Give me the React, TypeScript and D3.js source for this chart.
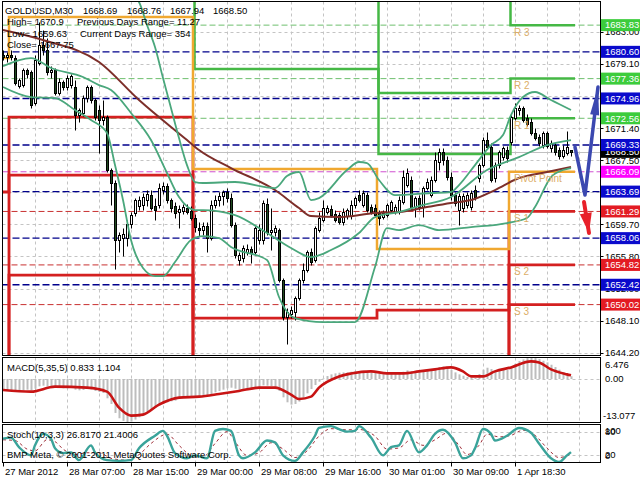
import React from "react";
import * as d3 from "d3";

// ---------------- DATA ----------------
const opens = [
  1680.21,1679.97,1680.21,1679.85,1676.46,1676.58,1678.40,1678.16,1674.41,1679.25,
  1681.42,1680.82,1678.16,1678.40,1675.62,1676.95,1676.34,1676.58,1676.34,1672.95,
  1673.20,1675.01,1676.34,1674.77,1673.56,1672.35,1672.71,1666.30,1664.73,1657.83,
  1658.07,1658.07,1659.77,1661.10,1661.94,1662.06,1662.67,1663.27,1661.94,1662.06,
  1663.88,1664.36,1662.67,1661.94,1661.22,1661.34,1661.70,1661.34,1660.49,1659.28,
  1659.04,1659.52,1658.07,1662.06,1662.67,1663.15,1663.64,1662.91,1659.64,1655.41,
  1655.65,1656.38,1656.74,1656.38,1657.83,1657.83,1662.19,1658.80,1658.80,1659.04,
  1652.99,1648.51,1648.88,1649.12,1650.81,1652.99,1654.20,1656.38,1655.41,1659.04,
  1660.25,1661.22,1661.58,1660.98,1660.85,1660.01,1660.73,1660.73,1662.06,1663.27,
  1662.06,1663.27,1661.82,1661.70,1661.10,1660.61,1660.85,1661.46,1661.22,1661.22,
  1662.43,1664.48,1665.09,1661.82,1662.91,1661.82,1664.12,1663.27,1665.09,1667.27,
  1668.48,1667.51,1665.45,1663.27,1661.46,1661.70,1662.06,1661.82,1663.88,1665.33,
  1666.90,1669.93,1669.08,1665.33,1666.90,1667.87,1668.72,1669.69,1672.59,1673.56,
  1673.80,1672.59,1672.11,1670.78,1670.29,1669.32,1670.78,1668.96,1669.32,1668.72,
  1667.99,1668.36,1668.69,
];
const highs = [
  1680.82,1680.58,1680.82,1680.21,1677.43,1678.64,1678.64,1678.40,1680.21,1684.20,
  1683.24,1682.27,1678.88,1678.64,1677.43,1677.19,1677.79,1677.92,1677.19,1673.80,
  1675.37,1676.58,1676.58,1675.01,1674.16,1674.77,1672.95,1666.54,1665.09,1658.80,
  1659.28,1660.25,1661.22,1662.91,1663.15,1663.52,1663.88,1663.88,1662.91,1664.73,
  1664.85,1664.73,1662.91,1662.43,1662.06,1662.19,1662.19,1661.94,1660.98,1660.01,
  1660.01,1660.01,1662.67,1663.27,1663.64,1663.88,1664.10,1663.52,1660.01,1656.38,
  1657.22,1657.35,1657.10,1659.52,1659.77,1662.67,1662.91,1661.70,1659.64,1659.28,
  1653.23,1649.60,1649.84,1651.05,1653.23,1655.05,1656.62,1656.86,1659.52,1661.22,
  1662.67,1662.06,1662.06,1661.46,1661.22,1661.70,1661.70,1662.67,1663.15,1663.88,
  1663.88,1663.64,1662.19,1662.19,1661.46,1661.46,1662.31,1662.67,1662.19,1663.15,
  1666.30,1666.54,1665.57,1663.15,1663.27,1664.36,1665.33,1665.57,1668.48,1668.96,
  1668.96,1667.99,1666.06,1663.64,1663.52,1663.52,1663.64,1663.88,1664.48,1667.15,
  1670.29,1670.90,1669.57,1667.27,1668.72,1669.20,1669.20,1672.95,1674.41,1674.16,
  1674.04,1673.08,1672.59,1671.38,1670.66,1671.02,1671.02,1669.93,1669.69,1669.08,
  1669.32,1671.02,1668.76,
];
const lows = [
  1679.61,1679.37,1679.61,1676.58,1676.22,1676.34,1677.43,1673.80,1674.16,1679.00,
  1680.21,1677.79,1677.43,1675.37,1675.37,1675.98,1675.98,1676.22,1671.14,1672.11,
  1672.83,1674.53,1674.41,1672.35,1668.36,1671.74,1666.06,1662.06,1654.32,1656.38,
  1655.89,1657.10,1659.28,1660.73,1661.46,1661.46,1661.94,1661.46,1660.25,1661.70,
  1663.40,1662.31,1661.22,1660.49,1659.28,1660.98,1660.98,1660.25,1658.80,1658.31,
  1658.43,1656.38,1657.83,1661.70,1661.94,1662.06,1662.43,1659.40,1655.65,1654.80,
  1655.17,1656.01,1655.05,1656.01,1657.35,1657.35,1658.43,1656.62,1658.31,1652.75,
  1648.15,1645.25,1648.39,1648.15,1650.57,1652.63,1653.96,1654.80,1655.17,1658.80,
  1660.01,1660.98,1660.61,1660.01,1659.77,1659.64,1660.37,1660.37,1661.70,1662.43,
  1661.82,1661.22,1660.98,1660.61,1659.70,1660.37,1660.61,1661.22,1660.98,1660.98,
  1662.19,1664.24,1661.46,1660.61,1661.46,1660.61,1663.88,1663.03,1664.85,1666.30,
  1666.90,1665.09,1662.67,1661.94,1659.63,1661.22,1661.70,1661.46,1662.67,1664.85,
  1666.66,1668.84,1664.85,1664.85,1666.54,1667.51,1667.27,1669.32,1672.35,1672.95,
  1672.11,1671.62,1670.53,1669.93,1669.20,1668.96,1668.96,1668.48,1668.11,1667.63,
  1667.75,1668.11,1667.94,
];
const closes = [
  1679.97,1680.21,1679.97,1676.83,1677.19,1678.40,1677.92,1674.16,1679.61,1681.42,
  1680.82,1678.16,1678.40,1675.62,1676.95,1676.34,1677.43,1677.67,1672.95,1673.56,
  1675.01,1676.34,1674.77,1672.71,1672.35,1672.71,1666.30,1664.73,1657.83,1658.43,
  1658.56,1659.77,1660.85,1662.67,1662.67,1663.03,1663.40,1661.70,1661.46,1664.12,
  1664.36,1662.67,1661.70,1661.10,1661.58,1661.82,1661.22,1660.49,1659.40,1659.04,
  1659.52,1658.07,1662.06,1662.67,1663.15,1663.64,1662.91,1659.64,1656.01,1656.01,
  1656.86,1656.74,1656.26,1659.28,1659.04,1662.31,1658.80,1659.04,1659.28,1652.99,
  1648.51,1649.12,1649.36,1650.81,1652.99,1654.20,1656.38,1655.17,1659.28,1660.49,
  1661.70,1661.70,1660.85,1660.25,1660.01,1661.22,1661.46,1662.06,1662.91,1662.67,
  1663.52,1661.46,1661.22,1660.85,1660.49,1661.10,1662.06,1662.43,1661.82,1662.67,
  1665.45,1665.94,1661.70,1662.91,1661.82,1664.12,1664.85,1665.09,1667.51,1668.48,
  1667.51,1665.45,1663.27,1662.31,1663.15,1663.15,1663.27,1663.52,1663.03,1666.90,
  1669.93,1669.08,1665.09,1666.90,1668.48,1668.96,1667.75,1672.71,1673.80,1673.80,
  1672.35,1671.87,1670.78,1670.17,1669.57,1670.78,1669.20,1669.57,1668.48,1667.99,
  1668.72,1669.08,1668.50,
];

// Bollinger bands / moving average, read as knots (bar index, price)
const bbUpperBars = [0, 15, 25, 30, 34, 36, 38, 40, 42, 44, 46, 48, 50, 58, 68, 71, 74, 77, 79, 86, 89, 91, 94, 98, 107, 112, 114, 118, 122, 125, 127, 130, 133, 137, 139, 142];
const bbUpper = [1689.0, 1690.0, 1690.0, 1688.5, 1686.63, 1683.85, 1681.18, 1677.43, 1673.80, 1670.17, 1666.90, 1664.85, 1664.73, 1664.85, 1664.12, 1665.57, 1666.06, 1662.67, 1662.91, 1666.30, 1667.27, 1667.15, 1665.09, 1663.27, 1663.52, 1663.64, 1664.48, 1666.90, 1669.32, 1670.53, 1672.95, 1675.13, 1675.74, 1674.77, 1674.29, 1673.56];
const bbMidBars = [0, 7, 12, 20, 24, 27, 32, 37, 41, 44, 48, 50, 58, 66, 72, 77, 82, 89, 93, 99, 104, 112, 121, 129, 136, 142];
const bbMid = [1678.88, 1679.85, 1678.64, 1677.55, 1676.58, 1675.98, 1673.20, 1669.93, 1665.94, 1663.03, 1661.46, 1661.46, 1660.85, 1658.68, 1656.86, 1655.77, 1656.62, 1658.68, 1660.61, 1661.22, 1661.94, 1663.03, 1666.30, 1667.87, 1669.32, 1669.93];
const bbLowerBars = [0, 7, 13, 18, 22, 26, 28, 30, 32, 35, 38, 40, 43, 47, 50, 54, 57, 66, 69, 73, 80, 88, 93, 96, 99, 104, 109, 117, 126, 131, 133, 137, 140, 142];
const bbLower = [1676.34, 1675.13, 1675.01, 1673.56, 1672.35, 1670.78, 1666.90, 1662.67, 1657.83, 1654.44, 1653.47, 1653.47, 1655.17, 1657.83, 1658.31, 1658.07, 1656.98, 1655.41, 1650.94, 1648.39, 1647.91, 1647.91, 1654.56, 1659.28, 1659.04, 1659.64, 1659.04, 1659.40, 1659.89, 1660.49, 1661.82, 1665.45, 1666.30, 1666.54];
const maBars = [0, 10, 24, 34, 46, 49, 57, 68, 74, 77, 84, 93, 99, 106, 112, 117, 123, 129, 136, 142];
const maVals = [1683.24, 1682.03, 1679.37, 1674.77, 1669.93, 1668.72, 1666.54, 1663.88, 1661.70, 1660.73, 1660.61, 1661.10, 1661.22, 1661.82, 1662.31, 1662.67, 1663.88, 1665.33, 1666.06, 1666.66];

// Daily pivot levels (days start at these bars)
const dayStartBars = [0, 2, 48, 94, 127];
const pivotP = [1679.85, 1684.81, 1666.42, 1656.74, 1666.09];
const pivotR1 = [1692.0, 1691.83, 1678.52, 1668.24, 1672.56];
const pivotR2 = [1700.0, 1703.9, 1696.55, 1675.62, 1677.36];
const pivotR3 = [1708.0, 1711.0, 1704.0, 1687.12, 1683.83];
const pivotS1 = [1663.64, 1672.71, 1648.39, 1649.36, 1661.29];
const pivotS2 = [1640.0, 1665.69, 1636.29, 1637.86, 1654.82];
const pivotS3 = [1630.0, 1653.59, 1620.0, 1625.0, 1650.02];
const pivotNames = ["R 3", "R 2", "R 1", "Pivot Point", "S 1", "S 2", "S 3"];

// Horizontal levels
const blueLevels = [1680.60, 1674.96, 1669.33, 1663.69, 1658.06, 1652.42];
const greenLevels = [1683.83, 1677.36, 1672.56];
const redLevels = [1661.29, 1654.82, 1650.02];
const pinkLevel = 1666.09;
const bidPrice = 1668.50;

// Axes
const priceTicks = [1683.0, 1679.12, 1675.24, 1671.36, 1667.48, 1663.6, 1659.72, 1655.84, 1651.96, 1648.08, 1644.2];
const priceTickLabels = ["1683.00", "1679.10", "1675.20", "1671.40", "1667.50", "1663.60", "1659.70", "1655.80", "1652.00", "1648.10", "1644.20"];
const dateBars = [0, 16, 32, 48, 64, 80, 96, 112, 128];
const dateLabels = ["27 Mar 2012", "28 Mar 07:00", "28 Mar 15:00", "29 Mar 00:00", "29 Mar 08:00", "29 Mar 16:00", "30 Mar 01:00", "30 Mar 09:00", "1 Apr 18:30"];

// MACD(5,35,5)
const macdHist = [
  -3.3,-3.5,-3.6,-3.8,-3.7,-3.4,-3.2,-3.4,-2.9,-2.2,
  -2.0,-2.2,-2.3,-2.6,-2.7,-2.8,-2.8,-2.7,-3.2,-3.4,
  -3.3,-3.0,-3.1,-3.6,-3.9,-4.2,-5.8,-7.5,-10.2,-11.8,
  -12.6,-13.077,-12.8,-12.2,-11.5,-10.7,-9.9,-9.3,-8.7,-8.0,
  -7.4,-7.0,-6.7,-6.5,-6.0,-5.7,-5.5,-5.5,-5.5,-5.3,
  -5.1,-4.9,-4.5,-4.0,-3.6,-3.2,-2.8,-2.6,-2.9,-3.2,
  -3.3,-3.2,-3.1,-2.7,-2.4,-1.9,-2.0,-2.1,-2.4,-3.6,
  -5.5,-7.0,-7.7,-7.5,-6.8,-5.6,-4.3,-3.0,-1.8,-0.8,
  0.2,0.9,1.4,1.7,1.9,2.0,2.0,2.2,2.4,2.4,
  2.5,2.3,2.0,1.8,1.5,1.4,1.5,1.6,1.6,1.7,
  2.2,2.6,2.3,2.2,2.0,2.2,2.5,2.7,3.2,3.6,
  3.8,3.5,2.8,2.0,1.4,1.0,0.6,0.4,0.3,1.5,
  2.8,3.4,3.0,2.6,2.7,2.9,2.8,3.5,4.6,5.4,
  5.9,6.3,6.476,6.3,6.0,5.5,5.0,4.3,3.6,2.8,
  2.0,1.4,0.833,
];
const macdSigBars = [0, 7, 13, 21, 26, 29, 32, 35, 39, 44, 49, 54, 59, 64, 68, 72, 74, 77, 79, 84, 87, 92, 96, 100, 104, 108, 112, 115, 117, 120, 123, 127, 132, 134, 137, 141, 142];
const macdSig = [-3.3, -3.8, -2.3, -2.6, -3.8, -8.6, -11.0, -10.7, -7.7, -5.6, -5.3, -4.5, -3.6, -2.6, -2.6, -4.7, -6.0, -5.3, -2.6, 0.76, 1.66, 2.3, 1.7, 1.7, 2.3, 2.9, 3.5, 2.3, 0.8, 0.8, 2.3, 3.5, 5.3, 5.0, 2.9, 1.4, 1.104];

// Stochastic(10,3,3)
const stochBars = [0,2,4,7,8,10,12,13,15,17,19,22,23,26,29,32,34,38,40,41,43,46,48,51,53,55,57,59,60,63,66,68,70,73,75,78,79,82,84,86,88,89,92,95,97,99,101,104,106,108,110,113,115,117,118,120,122,123,126,129,132,134,137,139,141,142];
const stochMain = [63,66,40,18,45,76,63,37,24,26,5,45,26,5,3,5,37,71,84,71,24,10,18,10,84,89,84,18,10,26,58,53,18,3,26,71,92,97,89,82,84,97,66,18,40,45,84,26,45,76,87,53,10,18,37,89,76,58,71,92,79,50,10,0,18,26.817];
const stochSigBars = [0,3,6,8,11,13,15,18,21,24,27,31,34,37,41,44,47,50,53,56,58,61,64,67,70,73,76,79,82,86,89,93,96,99,102,105,108,111,114,116,119,121,124,127,130,133,136,139,142];
const stochSig = [60,58,35,30,60,55,35,20,25,25,10,5,20,50,75,45,18,14,50,82,55,18,25,52,35,12,30,70,90,87,88,70,35,38,60,45,60,78,45,20,45,75,68,72,86,72,38,12,21.4];

// Hand-drawn arrows (bar index, price)
const blueArrowBars = [143, 145.5, 148.75];
const blueArrowPrices = [1669.08, 1663.27, 1676.34];
const redArrowBars = [145.25, 146.5];
const redArrowPrices = [1662.43, 1658.68];

const FONT = "'Liberation Sans', Arial, Helvetica, sans-serif";

export default function App() {
  const x = d3.scaleLinear().domain([0, 142]).range([3, 571]);
  const yM = d3.scaleLinear().domain([1644.2, 1683.0]).range([352.7, 32]);
  const yMacd = d3.scaleLinear().domain([-13.077, 6.476]).range([422.5, 357.5]);
  const yS = d3.scaleLinear().domain([0, 100]).range([462, 425]);

  const L = 2.5, R = 600.5;
  const MT = 1.5, MB = 355.5;
  const CT = 357.5, CB = 422.5;
  const ST = 424.5, SB = 462.5;

  const lastBar = opens.length - 1;
  const endX = x(lastBar) + 4;

  const knot = (bars: number[], vals: number[], ys: any) =>
    d3.line<number>().x((_, k) => x(bars[k])).y((v) => ys(v)).curve(d3.curveMonotoneX)(vals) || "";

  const stepPath = (levels: number[], shift: number) => {
    const pts: [number, number][] = dayStartBars.map((b, d) => [d === 0 ? L : x(b) - 2 + shift, yM(levels[d])]);
    pts.push([endX, yM(levels[levels.length - 1])]);
    return d3.line().curve(d3.curveStepAfter)(pts) || "";
  };

  const gridBars = d3.range(8, 145, 8);
  const day4 = dayStartBars.length - 1;
  const day4Levels = [pivotR3[day4], pivotR2[day4], pivotR1[day4], pivotP[day4], pivotS1[day4], pivotS2[day4], pivotS3[day4]];
  const boxLevels = [...blueLevels, ...greenLevels, ...redLevels, pinkLevel];

  const arrowHead = (p1: [number, number], p2: [number, number], len: number, hw: number) => {
    const dx = p2[0] - p1[0], dy = p2[1] - p1[1];
    const d = Math.hypot(dx, dy);
    const ux = dx / d, uy = dy / d;
    const bx = p2[0] - ux * len, by = p2[1] - uy * len;
    return `${p2[0]},${p2[1]} ${bx - uy * hw},${by + ux * hw} ${bx + uy * hw},${by - ux * hw}`;
  };
  const bluePts: [number, number][] = blueArrowBars.map((b, k) => [x(b), yM(blueArrowPrices[k])]);
  const redPts: [number, number][] = redArrowBars.map((b, k) => [x(b), yM(redArrowPrices[k])]);

  const gridColor = "#c4c4c4";
  const fs = 9.5;

  const labelBox = (v: number, bg: string, key: string) => {
    const yc = yM(v);
    return (
      <g key={key}>
        <rect x={601} y={yc - 6} width={39} height={12} fill={bg} />
        <text x={605} y={yc} dy="0.35em" fontSize={fs} fill="#fff">{v.toFixed(2)}</text>
      </g>
    );
  };

  return (
    <svg width={640} height={480} style={{ position: "absolute", left: 0, top: 0, background: "#fff" }} fontFamily={FONT}>
      <defs>
        <clipPath id="cMain"><rect x={L} y={MT} width={R - L} height={MB - MT} /></clipPath>
        <clipPath id="cMacd"><rect x={L} y={CT} width={R - L} height={CB - CT} /></clipPath>
        <clipPath id="cSt"><rect x={L} y={ST} width={R - L} height={SB - ST} /></clipPath>
      </defs>
      <rect x={0} y={0} width={640} height={480} fill="#fff" />

      {/* ---------- MAIN PANEL ---------- */}
      <g clipPath="url(#cMain)">
        {priceTicks.map((p, k) => (
          <line key={"hg" + k} x1={L} x2={R} y1={Math.round(yM(p)) + 0.5} y2={Math.round(yM(p)) + 0.5} stroke={gridColor} strokeDasharray="3,3" />
        ))}
        {gridBars.map((b) => (
          <line key={"vg" + b} x1={x(b) + 0.5} x2={x(b) + 0.5} y1={MT} y2={MB} stroke={gridColor} strokeDasharray="3,3" />
        ))}
        <line x1={L} x2={R} y1={Math.round(yM(bidPrice)) + 0.5} y2={Math.round(yM(bidPrice)) + 0.5} stroke="#c0c0c0" />
        {blueLevels.map((v, k) => (
          <line key={"bl" + k} x1={L} x2={R} y1={yM(v)} y2={yM(v)} stroke="#00008b" strokeWidth={1.4} strokeDasharray="7,3" />
        ))}
        {greenLevels.map((v, k) => (
          <line key={"gl" + k} x1={L} x2={R} y1={yM(v)} y2={yM(v)} stroke="#6fbf6f" strokeWidth={1} strokeDasharray="6,3" />
        ))}
        {redLevels.map((v, k) => (
          <line key={"rl" + k} x1={L} x2={R} y1={yM(v)} y2={yM(v)} stroke="#c83030" strokeWidth={1} strokeDasharray="6,3" />
        ))}
        <line x1={L} x2={R} y1={yM(pinkLevel)} y2={yM(pinkLevel)} stroke="#d050d0" strokeWidth={1} strokeDasharray="6,3" />

        {/* pivot step lines */}
        {[pivotR3, pivotR2, pivotR1].map((lv, k) => (
          <path key={"pr" + k} d={stepPath(lv, 1.5)} fill="none" stroke="#45b845" strokeWidth={2.5} />
        ))}
        {[pivotS3, pivotS2, pivotS1].map((lv, k) => (
          <path key={"ps" + k} d={stepPath(lv, 0)} fill="none" stroke="#d42020" strokeWidth={2.8} />
        ))}
        <path d={stepPath(pivotP, 0)} fill="none" stroke="#f0a830" strokeWidth={2.5} />

        {/* candles */}
        {opens.map((o, i) => {
          const c = closes[i];
          const xi = Math.round(x(i));
          const yo = yM(o), yc = yM(c);
          const top = Math.round(Math.min(yo, yc)) + 0.5;
          const h = Math.max(1, Math.round(Math.abs(yo - yc)));
          const bull = c >= o;
          return (
            <g key={"c" + i}>
              <line x1={xi + 0.5} x2={xi + 0.5} y1={Math.round(yM(highs[i])) + 0.5} y2={Math.round(yM(lows[i])) + 0.5} stroke="#000" />
              <rect x={xi - 0.5} y={top} width={2} height={h} fill={bull ? "#fff" : "#1f4a1f"} stroke="#000" />
            </g>
          );
        })}

        {/* indicators */}
        <path d={knot(maBars, maVals, yM)} fill="none" stroke="#7d2f2a" strokeWidth={2} />
        <path d={knot(bbUpperBars, bbUpper, yM)} fill="none" stroke="#4aa77c" strokeWidth={1.8} />
        <path d={knot(bbMidBars, bbMid, yM)} fill="none" stroke="#4aa77c" strokeWidth={1.8} />
        <path d={knot(bbLowerBars, bbLower, yM)} fill="none" stroke="#4aa77c" strokeWidth={1.8} />

        {/* pivot labels of current day */}
        {pivotNames.map((n, k) => (
          <text key={"pn" + k} x={x(dayStartBars[day4]) + 3} y={yM(day4Levels[k]) + 7} dy="0.35em" fontSize={10} fill="#dcae68">{n}</text>
        ))}

        {/* arrows */}
        <polyline points={bluePts.map((p) => p.join(",")).join(" ")} fill="none" stroke="#3b48b0" strokeWidth={3.5} strokeLinejoin="round" strokeLinecap="round" />
        <polygon points={arrowHead(bluePts[1], bluePts[2], 28, 4.5)} fill="#3b48b0" />
        <line x1={redPts[0][0]} y1={redPts[0][1]} x2={redPts[1][0]} y2={redPts[1][1]} stroke="#e8202a" strokeWidth={4} strokeLinecap="round" />
        <polygon points={arrowHead(redPts[0], redPts[1], 20, 6)} fill="#e8202a" />
      </g>

      {/* header text */}
      <g fontSize={fs} fill="#000">
        <text x={5} y={14}>GOLDUSD,M30</text>
        <text x={83} y={14}>1668.69</text>
        <text x={127} y={14}>1668.76</text>
        <text x={170} y={14}>1667.94</text>
        <text x={213} y={14}>1668.50</text>
        <text x={7} y={25}>High= 1670.9</text>
        <text x={77} y={25}>Previous Days Range= 11.27</text>
        <text x={7} y={37}>Low= 1659.63</text>
        <text x={80} y={37}>Current Days Range= 354</text>
        <text x={7} y={48}>Close= 1667.75</text>
      </g>

      {/* ---------- MACD PANEL ---------- */}
      <g clipPath="url(#cMacd)">
        {gridBars.map((b) => (
          <line key={"vgm" + b} x1={x(b) + 0.5} x2={x(b) + 0.5} y1={CT} y2={CB} stroke={gridColor} strokeDasharray="3,3" />
        ))}
        <line x1={L} x2={R} y1={Math.round(yMacd(0)) + 0.5} y2={Math.round(yMacd(0)) + 0.5} stroke={gridColor} strokeDasharray="3,3" />
        {macdHist.map((v, i) => (
          <rect key={"h" + i} x={Math.round(x(i)) - 0.5} y={Math.min(yMacd(v), yMacd(0))} width={2} height={Math.abs(yMacd(v) - yMacd(0))} fill="#bdbdbd" />
        ))}
        <path d={knot(macdSigBars, macdSig, yMacd)} fill="none" stroke="#c81414" strokeWidth={2.6} />
      </g>
      <text x={7} y={368} dy="0.35em" fontSize={fs}>MACD(5,35,5) 0.833 1.104</text>

      {/* ---------- STOCH PANEL ---------- */}
      <g clipPath="url(#cSt)">
        {gridBars.map((b) => (
          <line key={"vgs" + b} x1={x(b) + 0.5} x2={x(b) + 0.5} y1={ST} y2={SB} stroke={gridColor} strokeDasharray="3,3" />
        ))}
        {[80, 20].map((v) => (
          <line key={"sl" + v} x1={L} x2={R} y1={Math.round(yS(v)) + 0.5} y2={Math.round(yS(v)) + 0.5} stroke={gridColor} strokeDasharray="3,3" />
        ))}
        <path d={knot(stochSigBars, stochSig, yS)} fill="none" stroke="#a0303a" strokeWidth={1} strokeDasharray="3,3" />
        <path d={knot(stochBars, stochMain, yS)} fill="none" stroke="#3aa39a" strokeWidth={2.4} />
      </g>
      <text x={7} y={435} dy="0.35em" fontSize={fs}>Stoch(10,3,3) 26.8170 21.4006</text>
      <text x={7} y={455} dy="0.35em" fontSize={fs}>BMP Meta, © 2001-2011 MetaQuotes Software Corp.</text>

      {/* panel borders */}
      <rect x={L} y={MT} width={R - L} height={MB - MT} fill="none" stroke="#000" />
      <rect x={L} y={CT} width={R - L} height={CB - CT} fill="none" stroke="#000" />
      <rect x={L} y={ST} width={R - L} height={SB - ST} fill="none" stroke="#000" />

      {/* right price axis */}
      {labelBox(bidPrice, "#000", "bid")}
      {priceTicks.map((p, k) => {
        const hidden = boxLevels.some((v) => Math.abs(yM(v) - yM(p)) < 2.5);
        return (
          <g key={"pt" + k}>
            <line x1={R} x2={R + 3} y1={Math.round(yM(p)) + 0.5} y2={Math.round(yM(p)) + 0.5} stroke="#000" />
            {hidden ? null : (
              <text x={605} y={yM(p)} dy="0.35em" fontSize={fs} fill="#000">{priceTickLabels[k]}</text>
            )}
          </g>
        );
      })}
      {blueLevels.map((v, k) => labelBox(v, "#0a0acc", "bb" + k))}
      {greenLevels.map((v, k) => labelBox(v, "#3ccc3c", "gb" + k))}
      {redLevels.map((v, k) => labelBox(v, "#e31b23", "rb" + k))}
      {labelBox(pinkLevel, "#ff00ff", "pb")}

      {/* MACD axis */}
      <text x={605} y={365} dy="0.35em" fontSize={fs}>6.476</text>
      <text x={605} y={yMacd(0)} dy="0.35em" fontSize={fs}>0.00</text>
      <text x={603} y={416} dy="0.35em" fontSize={fs}>-13.077</text>
      {/* Stoch axis */}
      <text x={605} y={431} dy="0.35em" fontSize={fs}>100</text>
      <text x={605} y={432} dy="0.35em" fontSize={fs}>80</text>
      <text x={605} y={yS(20)} dy="0.35em" fontSize={fs}>20</text>
      <text x={605} y={yS(20) + 1} dy="0.35em" fontSize={fs}>0</text>

      {/* date axis */}
      {dateBars.map((b, k) => (
        <g key={"d" + k}>
          <line x1={x(b) + 0.5} x2={x(b) + 0.5} y1={SB} y2={SB + 4} stroke="#000" />
          <text x={x(b) + 2} y={472} dy="0.35em" fontSize={fs}>{dateLabels[k]}</text>
        </g>
      ))}
    </svg>
  );
}
